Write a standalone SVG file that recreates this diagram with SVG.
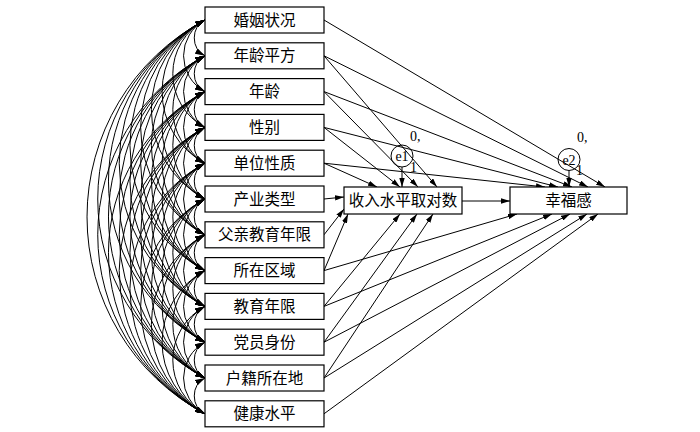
<svg xmlns="http://www.w3.org/2000/svg" width="700" height="432" viewBox="0 0 700 432">
<style>
.box{fill:#fff;stroke:#000;stroke-width:1.2}
.t{font-family:"Liberation Serif","Noto Sans CJK SC",serif;font-size:15.5px;fill:#000;text-anchor:middle}
.s{font-family:"Liberation Serif","Noto Sans CJK SC",serif;font-size:14px;fill:#000}
.p{stroke:#000;stroke-width:1;fill:none;marker-end:url(#ah)}
.cv{stroke:#000;stroke-width:1;fill:none;marker-start:url(#ac);marker-end:url(#ac)}
.ci{fill:none;stroke:#000;stroke-width:1}
</style>
<defs>
<marker id="ah" viewBox="0 0 10 6" refX="10" refY="3" markerWidth="9" markerHeight="5.4" markerUnits="userSpaceOnUse" orient="auto-start-reverse"><path d="M0,0L10,3L0,6z" fill="#000"/></marker>
<marker id="ac" viewBox="0 0 10 6" refX="10" refY="3" markerWidth="10" markerHeight="6.5" markerUnits="userSpaceOnUse" orient="auto-start-reverse"><path d="M0,0L10,3L0,6z" fill="#000"/></marker>
</defs>
<rect width="700" height="432" fill="#fff"/>
<g id="connectors">
<path class="cv" d="M205 20A20.3 20.3 0 0 0 205 55.8"/>
<path class="cv" d="M205 20A40.6 40.6 0 0 0 205 91.6"/>
<path class="cv" d="M205 20A60.9 60.9 0 0 0 205 127.4"/>
<path class="cv" d="M205 20A81.2 81.2 0 0 0 205 163.2"/>
<path class="cv" d="M205 20A101.5 101.5 0 0 0 205 199"/>
<path class="cv" d="M205 20A121.8 121.8 0 0 0 205 234.8"/>
<path class="cv" d="M205 20A142.1 142.1 0 0 0 205 270.6"/>
<path class="cv" d="M205 20A162.4 162.4 0 0 0 205 306.4"/>
<path class="cv" d="M205 20A182.7 182.7 0 0 0 205 342.2"/>
<path class="cv" d="M205 20A203 203 0 0 0 205 378"/>
<path class="cv" d="M205 20A223.3 223.3 0 0 0 205 413.8"/>
<path class="cv" d="M205 55.8A20.3 20.3 0 0 0 205 91.6"/>
<path class="cv" d="M205 55.8A40.6 40.6 0 0 0 205 127.4"/>
<path class="cv" d="M205 55.8A60.9 60.9 0 0 0 205 163.2"/>
<path class="cv" d="M205 55.8A81.2 81.2 0 0 0 205 199"/>
<path class="cv" d="M205 55.8A101.5 101.5 0 0 0 205 234.8"/>
<path class="cv" d="M205 55.8A121.8 121.8 0 0 0 205 270.6"/>
<path class="cv" d="M205 55.8A142.1 142.1 0 0 0 205 306.4"/>
<path class="cv" d="M205 55.8A162.4 162.4 0 0 0 205 342.2"/>
<path class="cv" d="M205 55.8A182.7 182.7 0 0 0 205 378"/>
<path class="cv" d="M205 55.8A203 203 0 0 0 205 413.8"/>
<path class="cv" d="M205 91.6A20.3 20.3 0 0 0 205 127.4"/>
<path class="cv" d="M205 91.6A40.6 40.6 0 0 0 205 163.2"/>
<path class="cv" d="M205 91.6A60.9 60.9 0 0 0 205 199"/>
<path class="cv" d="M205 91.6A81.2 81.2 0 0 0 205 234.8"/>
<path class="cv" d="M205 91.6A101.5 101.5 0 0 0 205 270.6"/>
<path class="cv" d="M205 91.6A121.8 121.8 0 0 0 205 306.4"/>
<path class="cv" d="M205 91.6A142.1 142.1 0 0 0 205 342.2"/>
<path class="cv" d="M205 91.6A162.4 162.4 0 0 0 205 378"/>
<path class="cv" d="M205 91.6A182.7 182.7 0 0 0 205 413.8"/>
<path class="cv" d="M205 127.4A20.3 20.3 0 0 0 205 163.2"/>
<path class="cv" d="M205 127.4A40.6 40.6 0 0 0 205 199"/>
<path class="cv" d="M205 127.4A60.9 60.9 0 0 0 205 234.8"/>
<path class="cv" d="M205 127.4A81.2 81.2 0 0 0 205 270.6"/>
<path class="cv" d="M205 127.4A101.5 101.5 0 0 0 205 306.4"/>
<path class="cv" d="M205 127.4A121.8 121.8 0 0 0 205 342.2"/>
<path class="cv" d="M205 127.4A142.1 142.1 0 0 0 205 378"/>
<path class="cv" d="M205 127.4A162.4 162.4 0 0 0 205 413.8"/>
<path class="cv" d="M205 163.2A20.3 20.3 0 0 0 205 199"/>
<path class="cv" d="M205 163.2A40.6 40.6 0 0 0 205 234.8"/>
<path class="cv" d="M205 163.2A60.9 60.9 0 0 0 205 270.6"/>
<path class="cv" d="M205 163.2A81.2 81.2 0 0 0 205 306.4"/>
<path class="cv" d="M205 163.2A101.5 101.5 0 0 0 205 342.2"/>
<path class="cv" d="M205 163.2A121.8 121.8 0 0 0 205 378"/>
<path class="cv" d="M205 163.2A142.1 142.1 0 0 0 205 413.8"/>
<path class="cv" d="M205 199A20.3 20.3 0 0 0 205 234.8"/>
<path class="cv" d="M205 199A40.6 40.6 0 0 0 205 270.6"/>
<path class="cv" d="M205 199A60.9 60.9 0 0 0 205 306.4"/>
<path class="cv" d="M205 199A81.2 81.2 0 0 0 205 342.2"/>
<path class="cv" d="M205 199A101.5 101.5 0 0 0 205 378"/>
<path class="cv" d="M205 199A121.8 121.8 0 0 0 205 413.8"/>
<path class="cv" d="M205 234.8A20.3 20.3 0 0 0 205 270.6"/>
<path class="cv" d="M205 234.8A40.6 40.6 0 0 0 205 306.4"/>
<path class="cv" d="M205 234.8A60.9 60.9 0 0 0 205 342.2"/>
<path class="cv" d="M205 234.8A81.2 81.2 0 0 0 205 378"/>
<path class="cv" d="M205 234.8A101.5 101.5 0 0 0 205 413.8"/>
<path class="cv" d="M205 270.6A20.3 20.3 0 0 0 205 306.4"/>
<path class="cv" d="M205 270.6A40.6 40.6 0 0 0 205 342.2"/>
<path class="cv" d="M205 270.6A60.9 60.9 0 0 0 205 378"/>
<path class="cv" d="M205 270.6A81.2 81.2 0 0 0 205 413.8"/>
<path class="cv" d="M205 306.4A20.3 20.3 0 0 0 205 342.2"/>
<path class="cv" d="M205 306.4A40.6 40.6 0 0 0 205 378"/>
<path class="cv" d="M205 306.4A60.9 60.9 0 0 0 205 413.8"/>
<path class="cv" d="M205 342.2A20.3 20.3 0 0 0 205 378"/>
<path class="cv" d="M205 342.2A40.6 40.6 0 0 0 205 413.8"/>
<path class="cv" d="M205 378A20.3 20.3 0 0 0 205 413.8"/>
<line class="p" x1="324" y1="20" x2="605" y2="187"/>
<line class="p" x1="324" y1="55.8" x2="437" y2="187"/>
<line class="p" x1="324" y1="55.8" x2="588" y2="187"/>
<line class="p" x1="324" y1="91.6" x2="418" y2="187"/>
<line class="p" x1="324" y1="91.6" x2="572" y2="187"/>
<line class="p" x1="324" y1="127.4" x2="400" y2="187"/>
<line class="p" x1="324" y1="127.4" x2="558" y2="187"/>
<line class="p" x1="324" y1="163.2" x2="377" y2="187"/>
<line class="p" x1="324" y1="163.2" x2="545" y2="187"/>
<line class="p" x1="324" y1="199" x2="344" y2="197"/>
<line class="p" x1="324" y1="234.8" x2="344" y2="209"/>
<line class="p" x1="324" y1="270.6" x2="348" y2="214"/>
<line class="p" x1="324" y1="270.6" x2="517" y2="214"/>
<line class="p" x1="324" y1="306.4" x2="400" y2="214"/>
<line class="p" x1="324" y1="306.4" x2="552" y2="214"/>
<line class="p" x1="324" y1="342.2" x2="417" y2="214"/>
<line class="p" x1="324" y1="342.2" x2="570" y2="214"/>
<line class="p" x1="324" y1="378" x2="433" y2="214"/>
<line class="p" x1="324" y1="378" x2="587" y2="214"/>
<line class="p" x1="324" y1="413.8" x2="598" y2="214"/>
<line class="p" x1="462" y1="201" x2="510" y2="201"/>
<line class="p" x1="402" y1="167" x2="402" y2="187"/>
<line class="p" x1="569" y1="170.5" x2="569" y2="187"/>
</g>
<g id="n1"><rect class="box" x="205" y="7" width="119" height="26"/><text class="t" x="264.5" y="25.5">婚姻状况</text></g>
<g id="n2"><rect class="box" x="205" y="42.8" width="119" height="26"/><text class="t" x="264.5" y="61.3">年龄平方</text></g>
<g id="n3"><rect class="box" x="205" y="78.6" width="119" height="26"/><text class="t" x="264.5" y="97.1">年龄</text></g>
<g id="n4"><rect class="box" x="205" y="114.4" width="119" height="26"/><text class="t" x="264.5" y="132.9">性别</text></g>
<g id="n5"><rect class="box" x="205" y="150.2" width="119" height="26"/><text class="t" x="264.5" y="168.7">单位性质</text></g>
<g id="n6"><rect class="box" x="205" y="186" width="119" height="26"/><text class="t" x="264.5" y="204.5">产业类型</text></g>
<g id="n7"><rect class="box" x="205" y="221.8" width="119" height="26"/><text class="t" x="264.5" y="240.3">父亲教育年限</text></g>
<g id="n8"><rect class="box" x="205" y="257.6" width="119" height="26"/><text class="t" x="264.5" y="276.1">所在区域</text></g>
<g id="n9"><rect class="box" x="205" y="293.4" width="119" height="26"/><text class="t" x="264.5" y="311.9">教育年限</text></g>
<g id="n10"><rect class="box" x="205" y="329.2" width="119" height="26"/><text class="t" x="264.5" y="347.7">党员身份</text></g>
<g id="n11"><rect class="box" x="205" y="365" width="119" height="26"/><text class="t" x="264.5" y="383.5">户籍所在地</text></g>
<g id="n12"><rect class="box" x="205" y="400.8" width="119" height="26"/><text class="t" x="264.5" y="419.3">健康水平</text></g>
<g id="income"><rect class="box" x="344" y="187" width="118" height="27"/><text class="t" x="403" y="206">收入水平取对数</text></g>
<g id="happiness"><rect class="box" x="510" y="187" width="117" height="27"/><text class="t" x="568.5" y="206">幸福感</text></g>
<g id="e1"><circle class="ci" cx="402" cy="156" r="11"/><text class="s" x="402" y="161" text-anchor="middle">e1</text><text class="s" x="410" y="141">0,</text><text class="s" x="410" y="172" font-size="12">1</text></g>
<g id="e2"><circle class="ci" cx="569" cy="159.5" r="11"/><text class="s" x="569" y="164.5" text-anchor="middle">e2</text><text class="s" x="577" y="142">0,</text><text class="s" x="576" y="175" font-size="12">1</text></g>
</svg>
